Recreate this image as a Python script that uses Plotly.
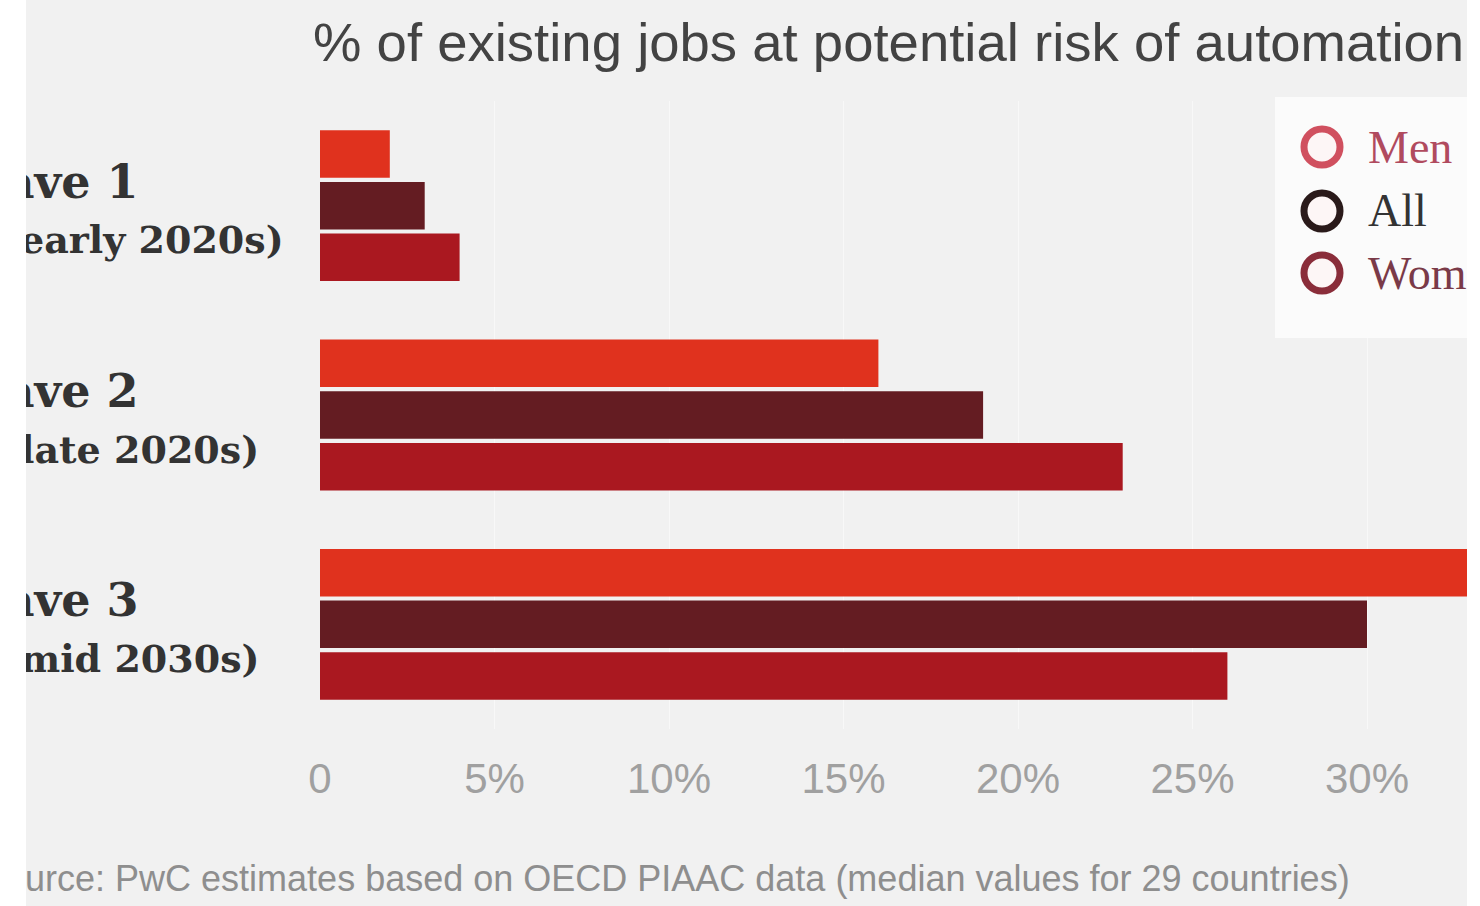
import plotly.graph_objects as go

# ---- data ----
waves = ["Wave 1", "Wave 2", "Wave 3"]
periods = ["(early 2020s)", "(late 2020s)", "(mid 2030s)"]
series = ["Men", "All", "Women"]
men = [2, 16, 34]
all_ = [3, 19, 30]
women = [4, 23, 26]
tick_vals = [0, 5, 10, 15, 20, 25, 30]
tick_text = ["0", "5%", "10%", "15%", "20%", "25%", "30%"]
title_text = "% of existing jobs at potential risk of automation"
source_text = "Source: PwC estimates based on OECD PIAAC data (median values for 29 countries)"

values = [men, all_, women]
bar_colors = ["#e0321e", "#641c22", "#aa1820"]
ring_colors = ["#d0505f", "#2a1a1a", "#8a2d3a"]
text_colors = ["#b04a5e", "#333333", "#7a3a48"]

W_FIG, H_FIG = 1480, 906
L, R, T, B = 320, 13, 101, 177
PW = W_FIG - L - R
PH = H_FIG - T - B
BG = "#f1f1f1"


def px(x):
    return (x - L) / PW


def py(y):
    return 1 - (y - T) / PH


fig = go.Figure()
for name, vals, col in zip(series, values, bar_colors):
    fig.add_trace(go.Bar(
        y=waves, x=vals, name=name, orientation="h",
        marker=dict(color=col, line=dict(width=0)),
        showlegend=False, hoverinfo="x+name",
    ))

x_max = (W_FIG - R - L) / 34.9

annotations = []
# title
annotations.append(dict(
    xref="paper", yref="paper", x=px(311), y=py(42), xanchor="left", yanchor="middle",
    text=title_text, showarrow=False,
    font=dict(family="Liberation Sans, Arial, sans-serif", size=54.5, color="#434343"),
))
# category labels
for w, p in zip(waves, periods):
    annotations.append(dict(
        xref="paper", yref="y", x=px(-46), y=w, xanchor="left", yanchor="middle",
        yshift=24, text=w, showarrow=False, align="left",
        font=dict(family="DejaVu Serif, serif", size=46, color="#333333", weight="bold"),
    ))
    annotations.append(dict(
        xref="paper", yref="y", x=px(0), y=w, xanchor="left", yanchor="middle",
        yshift=-34, text=p, showarrow=False, align="left",
        font=dict(family="DejaVu Serif, serif", size=38, color="#333333", weight="bold"),
    ))
# source
annotations.append(dict(
    xref="paper", yref="paper", x=px(1352), y=py(878), xanchor="right", yanchor="middle",
    text=source_text, showarrow=False,
    font=dict(family="Liberation Sans, Arial, sans-serif", size=36, color="#8e8e8e"),
))

# legend (manual, large open circles)
shapes = [dict(type="rect", xref="paper", yref="paper",
               x0=px(1275), x1=px(1480), y0=py(97), y1=py(338),
               fillcolor="#fbfbfb", line=dict(width=0), layer="above")]
leg_y = [147, 211, 273]
for name, ly, rc, tc in zip(series, leg_y, ring_colors, text_colors):
    shapes.append(dict(type="circle", xref="paper", yref="paper",
                       x0=px(1304), x1=px(1340), y0=py(ly - 18), y1=py(ly + 18),
                       line=dict(color=rc, width=7), fillcolor="#fdf6f6", layer="above"))
    annotations.append(dict(
        xref="paper", yref="paper", x=px(1366), y=py(ly), xanchor="left", yanchor="middle",
        text=name, showarrow=False,
        font=dict(family="Liberation Serif, serif", size=46, color=tc),
    ))

# white strips at the crop edges (drawn last so they cover overflow)
annotations.append(dict(
    xref="paper", yref="paper", x=px(0), y=1 + T / PH, xanchor="left", yanchor="top",
    text=" ", showarrow=False, width=26, height=H_FIG, bgcolor="#ffffff",
    borderpad=0, borderwidth=0,
))
annotations.append(dict(
    xref="paper", yref="paper", x=px(W_FIG - R), y=1 + T / PH, xanchor="left", yanchor="top",
    text=" ", showarrow=False, width=R + 2, height=H_FIG, bgcolor="#ffffff",
    borderpad=0, borderwidth=0,
))

fig.update_layout(
    width=W_FIG, height=H_FIG,
    margin=dict(l=L, r=R, t=T, b=B, autoexpand=False),
    paper_bgcolor=BG, plot_bgcolor=BG,
    barmode="group", bargap=0.26, bargroupgap=0.08,
    showlegend=False,
    xaxis=dict(range=[0, x_max], tickvals=tick_vals, ticktext=tick_text,
               showgrid=True, gridcolor="#f8f8f8", gridwidth=1, zeroline=False,
               showline=False, ticks="outside", ticklen=13, tickcolor=BG,
               tickfont=dict(family="Liberation Sans, Arial, sans-serif", size=42, color="#a0a0a0"),
               fixedrange=True),
    yaxis=dict(categoryorder="array", categoryarray=waves, autorange="reversed",
               showticklabels=False, showgrid=False, zeroline=False, showline=False,
               fixedrange=True),
    annotations=annotations,
    shapes=shapes,
)

fig.write_html("out.html", config={"displayModeBar": False})
